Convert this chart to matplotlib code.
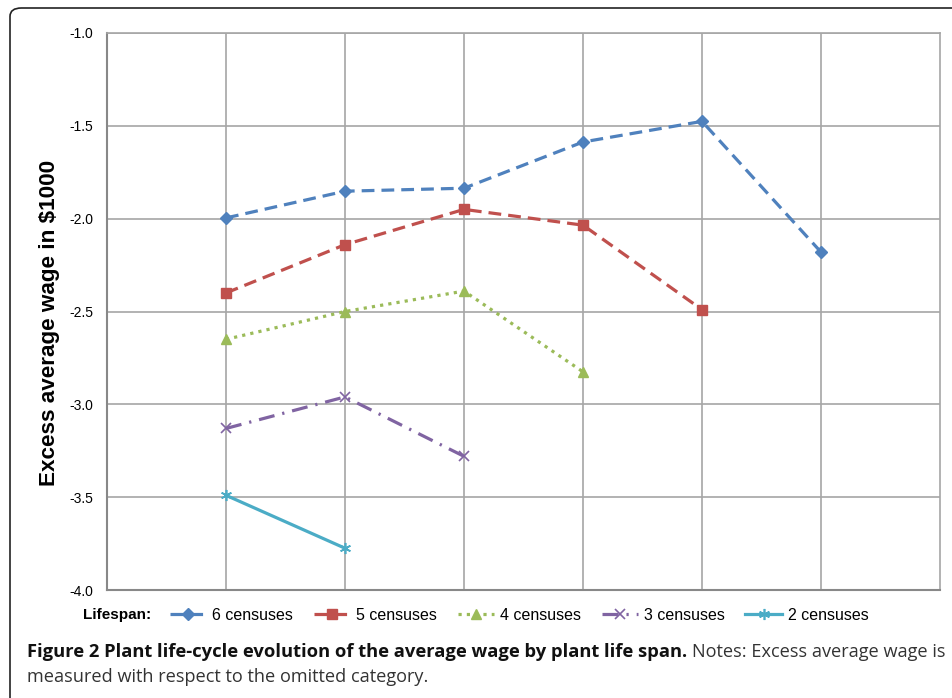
import matplotlib
matplotlib.use("Agg")
import matplotlib.pyplot as plt
from matplotlib.patches import FancyBboxPatch

plt.rcParams['font.family'] = ['Liberation Sans', 'DejaVu Sans']

stages = [1, 2, 3, 4, 5, 6]
series_labels = ["6 censuses", "5 censuses", "4 censuses", "3 censuses", "2 censuses"]
s6 = [-1.996, -1.852, -1.836, -1.587, -1.476, -2.18]
s5 = [-2.40, -2.14, -1.95, -2.035, -2.49]
s4 = [-2.65, -2.50, -2.39, -2.825]
s3 = [-3.13, -2.96, -3.28]
s2 = [-3.49, -3.775]
yticks = [-1.0, -1.5, -2.0, -2.5, -3.0, -3.5, -4.0]

colors = ["#4F81BD", "#C0504D", "#9BBB59", "#8064A2", "#4BACC6"]
styles = [(0, (4, 2.2)), (0, (4, 2.2)), (0, (1, 1.6)), (0, (5, 2.5, 0.7, 2.5)), '-']
markers = ['D', 's', '^', 'x', (6, 2, 0)]
msizes = [6.5, 7.5, 7.5, 7.5, 8]

fig = plt.figure(figsize=(9.53, 6.98), dpi=100)
W, H = 953, 698
ax = fig.add_axes([107 / W, 1 - 590 / H, (940 - 107) / W, (590 - 33) / H])

frame = FancyBboxPatch((10 / W, -0.1), 1.2, 1 - 8 / H + 0.1,
                       boxstyle="round,pad=0,rounding_size=0.012",
                       transform=fig.transFigure, facecolor='none',
                       edgecolor='#222222', linewidth=1.2, zorder=0)
fig.patches.append(frame)

data = [s6, s5, s4, s3, s2]
handles = []
for vals, lab, c, ls, mk, ms in zip(data, series_labels, colors, styles, markers, msizes):
    h, = ax.plot(stages[:len(vals)], vals, color=c, linestyle=ls, linewidth=2.3,
                 marker=mk, markersize=ms, markeredgecolor=c, markerfacecolor=c,
                 markeredgewidth=1.2 if mk in ('x',) or isinstance(mk, tuple) else 1,
                 label=lab, zorder=3)
    handles.append(h)

ax.set_xlim(0, 7)
ax.set_ylim(-4.0, -1.0)
ax.set_yticks(yticks)
ax.set_yticklabels([f"{v:.1f}" for v in yticks], fontsize=10)
ax.set_xticks(stages)
ax.set_xticklabels([])
ax.tick_params(axis='both', length=0, pad=10)
ax.grid(True, color='#A6A6A6', linewidth=1.2, zorder=1)
ax.set_axisbelow(True)
for side in ['top', 'right']:
    ax.spines[side].set_color('#A6A6A6')
    ax.spines[side].set_linewidth(1.2)
for side in ['left', 'bottom']:
    ax.spines[side].set_color('#888888')
    ax.spines[side].set_linewidth(1.5)

ax.set_ylabel("Excess average wage in $1000", fontsize=16.2, fontweight='bold')
ax.yaxis.set_label_coords(-47 / (940 - 107), 0.479)

fig.text(83 / W, 1 - 615 / H, "Lifespan:", fontsize=11, fontweight='bold', va='center', ha='left')
leg = fig.legend(handles=handles, loc='center left', bbox_to_anchor=(170 / W, 1 - 615 / H),
                 ncol=5, frameon=False, fontsize=11.5, handlelength=2.3, handletextpad=0.35,
                 columnspacing=1.29, borderaxespad=0, borderpad=0)

cap_font = ['Open Sans', 'DejaVu Sans']
y1 = 1 - 652 / H
t1 = fig.text(27 / W, y1, "Figure 2 Plant life-cycle evolution of the average wage by plant life span.",
              fontsize=13.2, fontweight='bold', family=cap_font, va='center', ha='left', color='#111111')
fig.canvas.draw()
bb = t1.get_window_extent()
fig.text((bb.x1 + 5) / W, y1, "Notes: Excess average wage is", fontsize=13.1,
         family=cap_font, va='center', ha='left', color='#333333')
fig.text(27 / W, 1 - 677 / H, "measured with respect to the omitted category.", fontsize=13.1,
         family=cap_font, va='center', ha='left', color='#333333')

fig.savefig("out.png", dpi=100)
